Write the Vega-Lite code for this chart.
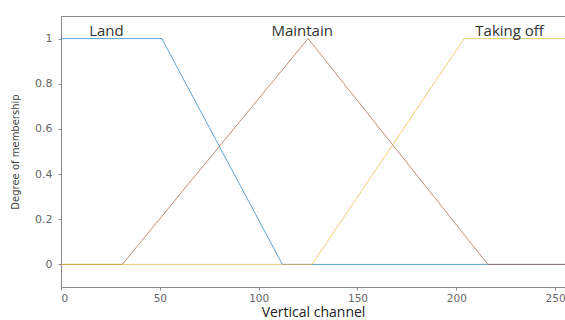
{
  "$schema": "https://vega.github.io/schema/vega-lite/v6.json",
  "width": 504,
  "height": 271,
  "autosize": "none",
  "padding": {"left": 61, "top": 16, "right": 0, "bottom": 33},
  "background": "white",
  "config": {
    "view": {"stroke": "#8a8a8a", "strokeWidth": 1},
    "axis": {"grid": false, "domainColor": "#8a8a8a", "tickColor": "#8a8a8a", "labelColor": "#666", "labelFont": "DejaVu Sans", "labelFontSize": 11, "titleFont": "Open Sans", "titleFontWeight": "normal", "titleColor": "#222"}
  },
  "datasets": {
    "mf": [
      {"set": "Land", "x": 0, "y": 1},
      {"set": "Land", "x": 51, "y": 1},
      {"set": "Land", "x": 112, "y": 0},
      {"set": "Land", "x": 255, "y": 0},
      {"set": "Maintain", "x": 0, "y": 0},
      {"set": "Maintain", "x": 31, "y": 0},
      {"set": "Maintain", "x": 125, "y": 1},
      {"set": "Maintain", "x": 216, "y": 0},
      {"set": "Maintain", "x": 255, "y": 0},
      {"set": "Taking off", "x": 0, "y": 0},
      {"set": "Taking off", "x": 127, "y": 0},
      {"set": "Taking off", "x": 204, "y": 1},
      {"set": "Taking off", "x": 255, "y": 1}
    ],
    "labels": [
      {"set": "Land", "x": 23, "y": 1.035},
      {"set": "Maintain", "x": 122, "y": 1.035},
      {"set": "Taking off", "x": 227, "y": 1.035}
    ]
  },
  "layer": [
    {
      "data": {"name": "mf"},
      "mark": {"type": "line", "strokeWidth": 1, "opacity": 0.65},
      "encoding": {
        "x": {"field": "x", "type": "quantitative", "scale": {"domain": [0, 255], "nice": false, "zero": false},
              "axis": {"values": [0, 50, 100, 150, 200, 250], "format": "d", "title": "Vertical channel", "titleFontSize": 14, "titlePadding": 2, "tickSize": 3, "labelPadding": 3, "labelFontSize": 10.5, "labelBaseline": "top"}},
        "y": {"field": "y", "type": "quantitative", "scale": {"domain": [-0.1, 1.1], "nice": false, "zero": false},
              "axis": {"values": [0, 0.2, 0.4, 0.6, 0.8, 1], "format": "~g", "title": "Degree of membership", "titleFontSize": 10, "titleFont": "DejaVu Sans", "titleColor": "#444", "titlePadding": 14, "tickSize": 3, "labelPadding": 6}},
        "color": {"field": "set", "type": "nominal", "scale": {"domain": ["Land", "Maintain", "Taking off"], "range": ["#0072BD", "#A0522D", "#E8B030"]}, "legend": null},
        "order": {"field": "x", "type": "quantitative"}
      }
    },
    {
      "data": {"name": "labels"},
      "mark": {"type": "text", "font": "Open Sans", "fontSize": 15, "color": "#333", "baseline": "middle"},
      "encoding": {
        "x": {"field": "x", "type": "quantitative"},
        "y": {"field": "y", "type": "quantitative"},
        "text": {"field": "set"}
      }
    }
  ]
}
